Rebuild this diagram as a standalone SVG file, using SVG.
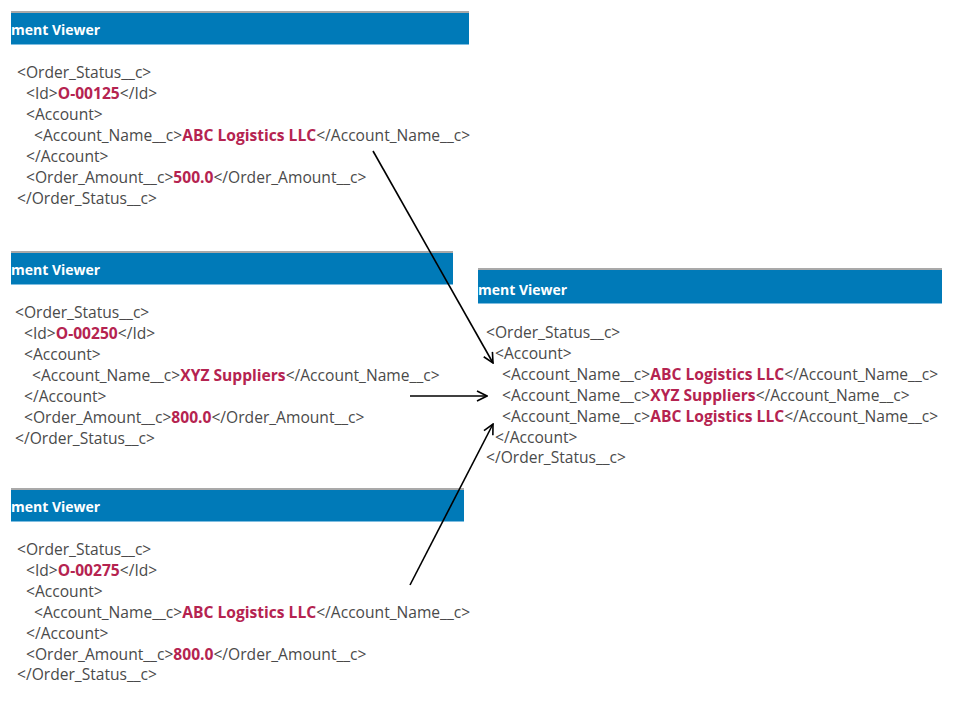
<svg xmlns="http://www.w3.org/2000/svg" width="964" height="702" viewBox="0 0 964 702">
<defs>
<style>
.bar{fill:#007ab8}
.bartop{fill:#a9a9a9}
.barbot{fill:#7fbde0}
.title{font-family:"Open Sans","Liberation Sans",sans-serif;font-size:14px;font-weight:bold;fill:#ffffff}
.x{font-family:"Open Sans","Liberation Sans",sans-serif;font-size:15.6px;fill:#4a4a4a}
.v{font-weight:bold;fill:#b52350}
.conn{stroke:#000;stroke-width:1.6;fill:none;marker-end:url(#ah)}
</style>
<marker id="ah" viewBox="0 0 12 12" refX="11" refY="6" markerWidth="12" markerHeight="12" markerUnits="userSpaceOnUse" orient="auto">
<path d="M1,1 L11,6 L1,11" fill="none" stroke="#000" stroke-width="1.6"/>
</marker>
</defs>
<rect width="964" height="702" fill="#ffffff"/>

<g id="viewer1">
<rect class="bartop" x="11" y="11" width="458" height="2"/>
<rect class="bar" x="11" y="13" width="458" height="32"/>
<rect class="barbot" x="11" y="44" width="458" height="1"/>
<text class="title" x="11" y="35">ment Viewer</text>
<text class="x" x="17" y="78">&lt;Order_Status__c&gt;</text>
<text class="x" x="26" y="99">&lt;Id&gt;<tspan class="v">O-00125</tspan>&lt;/Id&gt;</text>
<text class="x" x="26" y="120">&lt;Account&gt;</text>
<text class="x" x="34" y="141">&lt;Account_Name__c&gt;<tspan class="v">ABC Logistics LLC</tspan>&lt;/Account_Name__c&gt;</text>
<text class="x" x="26" y="162">&lt;/Account&gt;</text>
<text class="x" x="26" y="183">&lt;Order_Amount__c&gt;<tspan class="v">500.0</tspan>&lt;/Order_Amount__c&gt;</text>
<text class="x" x="17" y="204">&lt;/Order_Status__c&gt;</text>
</g>

<g id="viewer2">
<rect class="bartop" x="11" y="251" width="442" height="2"/>
<rect class="bar" x="11" y="253" width="442" height="32"/>
<rect class="barbot" x="11" y="284" width="442" height="1"/>
<text class="title" x="11" y="275">ment Viewer</text>
<text class="x" x="15" y="318">&lt;Order_Status__c&gt;</text>
<text class="x" x="24" y="339">&lt;Id&gt;<tspan class="v">O-00250</tspan>&lt;/Id&gt;</text>
<text class="x" x="24" y="360">&lt;Account&gt;</text>
<text class="x" x="32" y="381">&lt;Account_Name__c&gt;<tspan class="v">XYZ Suppliers</tspan>&lt;/Account_Name__c&gt;</text>
<text class="x" x="24" y="402">&lt;/Account&gt;</text>
<text class="x" x="24" y="423">&lt;Order_Amount__c&gt;<tspan class="v">800.0</tspan>&lt;/Order_Amount__c&gt;</text>
<text class="x" x="15" y="444">&lt;/Order_Status__c&gt;</text>
</g>

<g id="viewer3">
<rect class="bartop" x="11" y="488" width="453" height="2"/>
<rect class="bar" x="11" y="490" width="453" height="32"/>
<rect class="barbot" x="11" y="521" width="453" height="1"/>
<text class="title" x="11" y="512">ment Viewer</text>
<text class="x" x="17" y="555">&lt;Order_Status__c&gt;</text>
<text class="x" x="26" y="576">&lt;Id&gt;<tspan class="v">O-00275</tspan>&lt;/Id&gt;</text>
<text class="x" x="26" y="597">&lt;Account&gt;</text>
<text class="x" x="34" y="618">&lt;Account_Name__c&gt;<tspan class="v">ABC Logistics LLC</tspan>&lt;/Account_Name__c&gt;</text>
<text class="x" x="26" y="639">&lt;/Account&gt;</text>
<text class="x" x="26" y="660">&lt;Order_Amount__c&gt;<tspan class="v">800.0</tspan>&lt;/Order_Amount__c&gt;</text>
<text class="x" x="17" y="680">&lt;/Order_Status__c&gt;</text>
</g>

<g id="viewer4">
<rect class="bartop" x="478" y="268" width="464" height="2"/>
<rect class="bar" x="478" y="270" width="464" height="34"/>
<rect class="barbot" x="478" y="303" width="464" height="1"/>
<text class="title" x="478" y="295">ment Viewer</text>
<text class="x" x="486" y="338">&lt;Order_Status__c&gt;</text>
<text class="x" x="495" y="359">&lt;Account&gt;</text>
<text class="x" x="502" y="380">&lt;Account_Name__c&gt;<tspan class="v">ABC Logistics LLC</tspan>&lt;/Account_Name__c&gt;</text>
<text class="x" x="502" y="401">&lt;Account_Name__c&gt;<tspan class="v">XYZ Suppliers</tspan>&lt;/Account_Name__c&gt;</text>
<text class="x" x="502" y="422">&lt;Account_Name__c&gt;<tspan class="v">ABC Logistics LLC</tspan>&lt;/Account_Name__c&gt;</text>
<text class="x" x="495" y="443">&lt;/Account&gt;</text>
<text class="x" x="486" y="463">&lt;/Order_Status__c&gt;</text>
</g>

<g id="connectors">
<line class="conn" x1="373" y1="151" x2="493" y2="363"/>
<line class="conn" x1="410" y1="396" x2="487" y2="396"/>
<line class="conn" x1="410" y1="585" x2="493" y2="424"/>
</g>
</svg>
